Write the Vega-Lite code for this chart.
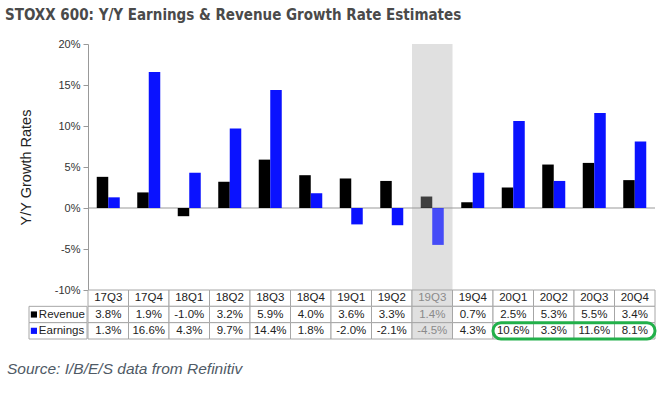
{
  "$schema": "https://vega.github.io/schema/vega-lite/v6.json",
  "autosize": {"type": "pad"},
  "padding": {"left": 5, "top": 8, "right": 4, "bottom": 2},
  "background": "#ffffff",
  "config": {
    "font": "Liberation Sans",
    "view": {"stroke": null},
    "concat": {"spacing": 0}
  },
  "datasets": {
    "growth": [
      {"q": "17Q3", "series": "Revenue", "v": 3.8},
      {"q": "17Q3", "series": "Earnings", "v": 1.3},
      {"q": "17Q4", "series": "Revenue", "v": 1.9},
      {"q": "17Q4", "series": "Earnings", "v": 16.6},
      {"q": "18Q1", "series": "Revenue", "v": -1.0},
      {"q": "18Q1", "series": "Earnings", "v": 4.3},
      {"q": "18Q2", "series": "Revenue", "v": 3.2},
      {"q": "18Q2", "series": "Earnings", "v": 9.7},
      {"q": "18Q3", "series": "Revenue", "v": 5.9},
      {"q": "18Q3", "series": "Earnings", "v": 14.4},
      {"q": "18Q4", "series": "Revenue", "v": 4.0},
      {"q": "18Q4", "series": "Earnings", "v": 1.8},
      {"q": "19Q1", "series": "Revenue", "v": 3.6},
      {"q": "19Q1", "series": "Earnings", "v": -2.0},
      {"q": "19Q2", "series": "Revenue", "v": 3.3},
      {"q": "19Q2", "series": "Earnings", "v": -2.1},
      {"q": "19Q3", "series": "Revenue", "v": 1.4},
      {"q": "19Q3", "series": "Earnings", "v": -4.5},
      {"q": "19Q4", "series": "Revenue", "v": 0.7},
      {"q": "19Q4", "series": "Earnings", "v": 4.3},
      {"q": "20Q1", "series": "Revenue", "v": 2.5},
      {"q": "20Q1", "series": "Earnings", "v": 10.6},
      {"q": "20Q2", "series": "Revenue", "v": 5.3},
      {"q": "20Q2", "series": "Earnings", "v": 3.3},
      {"q": "20Q3", "series": "Revenue", "v": 5.5},
      {"q": "20Q3", "series": "Earnings", "v": 11.6},
      {"q": "20Q4", "series": "Revenue", "v": 3.4},
      {"q": "20Q4", "series": "Earnings", "v": 8.1}
    ],
    "rows": [{"series": "Revenue"}, {"series": "Earnings"}],
    "blank": [{"k": 1}]
  },
  "title": {
    "text": "Source: I/B/E/S data from Refinitiv",
    "orient": "bottom",
    "anchor": "start",
    "frame": "group",
    "dx": -22,
    "offset": 21,
    "font": "Liberation Sans",
    "fontStyle": "italic",
    "fontWeight": "normal",
    "fontSize": 15.5,
    "color": "#4f5a66"
  },
  "columns": 2,
  "spacing": 0,
  "bounds": "flush",
  "align": "each",
  "concat": [
    {
      "width": 59,
      "height": 246,
      "data": {"name": "blank"},
      "mark": {"type": "text", "text": ""},
      "encoding": {}
    },
    {
      "width": 567,
      "height": 246,
      "title": {
        "text": "STOXX 600: Y/Y Earnings & Revenue Growth Rate Estimates",
        "anchor": "start",
        "frame": "group",
        "dx": -83,
        "offset": 15,
        "font": "DejaVu Sans Condensed",
        "fontWeight": "bold",
        "fontSize": 15,
        "color": "#4a4a4a"
      },
      "layer": [
        {
          "data": {"name": "blank"},
          "mark": {"type": "rect", "color": "#e0e0e0"},
          "encoding": {
            "x": {"datum": "19Q3", "type": "nominal", "scale": {"domain": ["17Q3","17Q4","18Q1","18Q2","18Q3","18Q4","19Q1","19Q2","19Q3","19Q4","20Q1","20Q2","20Q3","20Q4"], "paddingInner": 0, "paddingOuter": 0}, "axis": null},
            "y": {"datum": 20, "type": "quantitative", "scale": {"domain": [-10, 20], "nice": false}},
            "y2": {"datum": -10}
          }
        },
        {
          "data": {"name": "blank"},
          "mark": {"type": "rule", "color": "#999999", "strokeWidth": 1},
          "encoding": {
            "y": {"datum": 0, "type": "quantitative"}
          }
        },
        {
          "data": {"name": "growth"},
          "mark": {"type": "bar"},
          "encoding": {
            "x": {"field": "q", "type": "nominal", "scale": {"domain": ["17Q3","17Q4","18Q1","18Q2","18Q3","18Q4","19Q1","19Q2","19Q3","19Q4","20Q1","20Q2","20Q3","20Q4"], "paddingInner": 0, "paddingOuter": 0}, "axis": null},
            "xOffset": {"field": "series", "type": "nominal", "scale": {"domain": ["Revenue", "Earnings"], "paddingInner": 0, "paddingOuter": 0.76}},
            "y": {
              "field": "v",
              "type": "quantitative",
              "scale": {"domain": [-10, 20], "nice": false},
              "axis": {
                "values": [-10, -5, 0, 5, 10, 15, 20],
                "labelExpr": "datum.value + '%'",
                "grid": false,
                "domainColor": "#999999",
                "tickColor": "#999999",
                "tickSize": 5,
                "labelColor": "#333333",
                "labelFontSize": 11,
                "labelPadding": 3,
                "title": "Y/Y Growth Rates",
                "titleFontSize": 14.5,
                "titleFontWeight": "normal",
                "titleColor": "#222222",
                "titlePadding": 21
              }
            },
            "color": {"field": "series", "type": "nominal", "scale": {"domain": ["Revenue", "Earnings"], "range": ["#000000", "#0a12ff"]}, "legend": null},
            "opacity": {"condition": {"test": "datum.q === '19Q3'", "value": 0.72}, "value": 1}
          }
        }
      ]
    },
    {
      "width": 59,
      "height": 49,
      "data": {"name": "rows"},
      "layer": [
        {
          "mark": {"type": "rect", "fill": "#ffffff", "stroke": "#a6a6a6", "strokeWidth": 1},
          "encoding": {
            "x": {"datum": 0, "type": "quantitative", "scale": {"domain": [0, 59]}, "axis": null},
            "x2": {"datum": 59},
            "y": {"field": "series", "type": "nominal", "scale": {"domain": ["hdr", "Revenue", "Earnings"], "paddingInner": 0, "paddingOuter": 0}, "axis": null}
          }
        },
        {
          "mark": {"type": "point", "shape": "square", "filled": true, "size": 38, "opacity": 1},
          "encoding": {
            "x": {"datum": 5, "type": "quantitative"},
            "y": {"field": "series", "type": "nominal"},
            "color": {"field": "series", "type": "nominal", "legend": null}
          }
        },
        {
          "mark": {"type": "text", "align": "left", "fontSize": 11.5, "color": "#222222"},
          "encoding": {
            "x": {"datum": 10, "type": "quantitative"},
            "y": {"field": "series", "type": "nominal"},
            "text": {"field": "series"}
          }
        }
      ]
    },
    {
      "width": 567,
      "height": 49,
      "data": {"name": "growth"},
      "layer": [
        {
          "transform": [{"filter": "datum.series === 'Revenue'"}],
          "mark": {"type": "rect", "stroke": "#a6a6a6", "strokeWidth": 1},
          "encoding": {
            "x": {"field": "q", "type": "nominal", "scale": {"domain": ["17Q3","17Q4","18Q1","18Q2","18Q3","18Q4","19Q1","19Q2","19Q3","19Q4","20Q1","20Q2","20Q3","20Q4"], "paddingInner": 0, "paddingOuter": 0}, "axis": null},
            "y": {"datum": "hdr", "type": "nominal", "scale": {"domain": ["hdr", "Revenue", "Earnings"], "paddingInner": 0, "paddingOuter": 0}, "axis": null},
            "fill": {"condition": {"test": "datum.q === '19Q3'", "value": "#e0e0e0"}, "value": "#ffffff"}
          }
        },
        {
          "mark": {"type": "rect", "stroke": "#a6a6a6", "strokeWidth": 1},
          "encoding": {
            "x": {"field": "q", "type": "nominal"},
            "y": {"field": "series", "type": "nominal"},
            "fill": {"condition": {"test": "datum.q === '19Q3'", "value": "#e0e0e0"}, "value": "#ffffff"}
          }
        },
        {
          "transform": [{"filter": "datum.series === 'Revenue'"}],
          "mark": {"type": "text", "fontSize": 11.5},
          "encoding": {
            "x": {"field": "q", "type": "nominal"},
            "y": {"datum": "hdr", "type": "nominal"},
            "text": {"field": "q"},
            "color": {"condition": {"test": "datum.q === '19Q3'", "value": "#8a8a8a"}, "value": "#222222"}
          }
        },
        {
          "transform": [{"calculate": "replace(format(datum.v, '.1f'), '\u2212', '-') + '%'", "as": "lbl"}],
          "mark": {"type": "text", "fontSize": 11.5},
          "encoding": {
            "x": {"field": "q", "type": "nominal"},
            "y": {"field": "series", "type": "nominal"},
            "text": {"field": "lbl"},
            "color": {"condition": {"test": "datum.q === '19Q3'", "value": "#8a8a8a"}, "value": "#222222"}
          }
        },
        {
          "data": {"name": "blank"},
          "mark": {"type": "rect", "filled": false, "stroke": "#22b04a", "strokeWidth": 3, "cornerRadius": 8},
          "encoding": {
            "x": {"datum": "20Q1", "type": "nominal", "bandPosition": 0},
            "x2": {"datum": "20Q4", "bandPosition": 1},
            "y": {"datum": "Earnings", "type": "nominal"}
          }
        }
      ]
    }
  ]
}
